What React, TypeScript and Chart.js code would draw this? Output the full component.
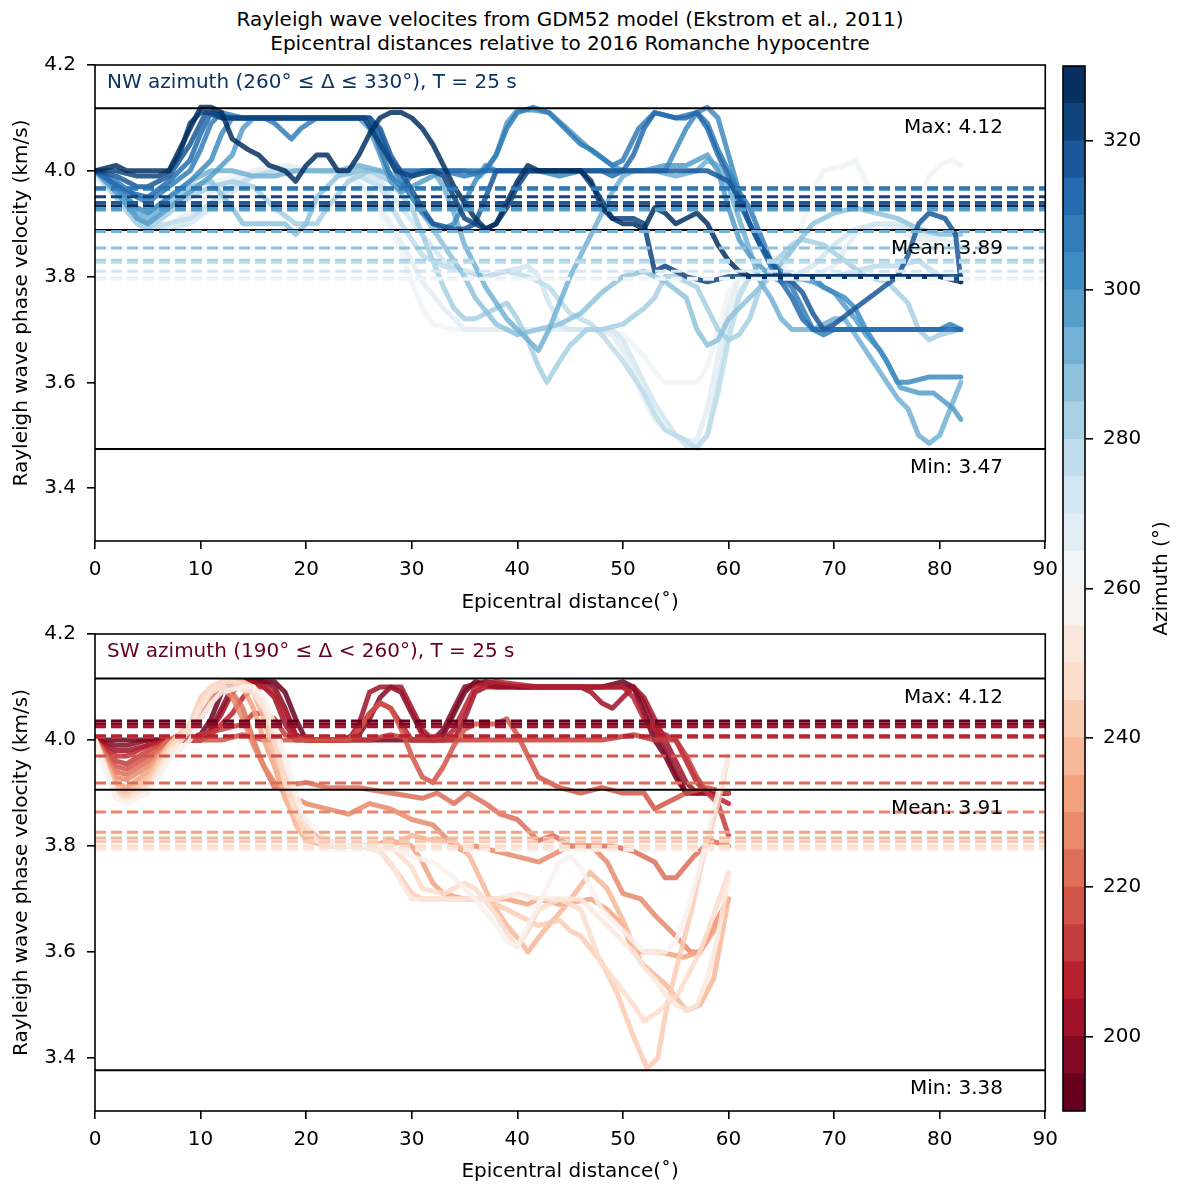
import React, { useEffect, useRef } from 'react';
import { Chart, registerables } from 'chart.js';

Chart.register(...registerables);

const FONT_FAMILY = '"DejaVu Sans", "Liberation Sans", sans-serif';

// ---------- axis ticks ----------
const xTicks = [0, 10, 20, 30, 40, 50, 60, 70, 80, 90];
const yTicks = [3.4, 3.6, 3.8, 4.0, 4.2];
const cbTicks = [200, 220, 240, 260, 280, 300, 320];
const cbBounds = [190, 195, 200, 205, 210, 215, 220, 225, 230, 235, 240, 245, 250, 255, 260, 265, 270, 275, 280, 285, 290, 295, 300, 305, 310, 315, 320, 325, 330];
const statNames = ['Max', 'Mean', 'Min'];
const statLabelX = 86;

// ---------- NW panel (azimuth 260..325) ----------
const nwAzimuths = [260, 265, 270, 275, 280, 285, 290, 295, 300, 305, 310, 315, 320, 325];
const nwStats = [4.118, 3.888, 3.474];
const nwMeans = [3.795, 3.797, 3.81, 3.827, 3.831, 3.854, 3.885, 3.926, 3.928, 3.965, 3.968, 3.94, 3.951, 3.934];

const nw260: [number, number][] = [[0,3.99],[2,3.95],[4,3.9],[5,3.89],[7,3.92],[10,3.97],[13,3.99],[16,4.0],[19,4.0],[22,4.0],[24,4.0],[25,3.98],[27,3.92],[29,3.85],[30,3.79],[31,3.74],[32,3.71],[34,3.7],[36,3.7],[38,3.7],[40,3.7],[42,3.7],[44,3.7],[46,3.7],[48,3.7],[50,3.69],[52,3.65],[53,3.62],[54,3.6],[56,3.6],[57,3.6],[58,3.63],[59,3.7],[60,3.77],[61,3.8],[63,3.8],[65,3.8],[66,3.85],[67,3.9],[68,3.96],[69,4.0],[71,4.01],[72,4.02],[73,3.98],[74,3.95],[76,3.94],[77,3.93],[78,3.94],[79,3.99],[80,4.01],[81,4.02],[82,4.01]];
const nw265: [number, number][] = [[0,3.99],[2,3.95],[4,3.91],[5,3.9],[7,3.9],[9,3.92],[11,3.96],[13,3.98],[15,4.0],[18,4.01],[21,4.0],[24,3.99],[26,3.96],[28,3.9],[30,3.83],[31,3.79],[33,3.74],[34,3.72],[35,3.7],[37,3.7],[40,3.7],[43,3.7],[45,3.7],[47,3.7],[49,3.69],[50,3.66],[51,3.62],[52,3.57],[53,3.53],[54,3.51],[55,3.5],[56,3.49],[57,3.49],[58,3.55],[59,3.65],[60,3.74],[61,3.8],[62,3.81],[64,3.8],[66,3.79],[68,3.8],[70,3.82],[72,3.88],[74,3.9],[76,3.89],[78,3.87],[80,3.87],[82,3.86]];
const nw270: [number, number][] = [[0,4.0],[2,3.96],[4,3.92],[5,3.9],[7,3.89],[9,3.9],[11,3.93],[13,3.96],[15,3.99],[17,4.0],[20,4.0],[23,4.0],[25,4.0],[27,3.98],[29,3.93],[31,3.88],[33,3.83],[35,3.81],[37,3.8],[39,3.81],[41,3.82],[42,3.8],[43,3.75],[44,3.71],[45,3.7],[47,3.7],[49,3.7],[50,3.68],[51,3.64],[52,3.6],[53,3.56],[54,3.53],[55,3.5],[56,3.48],[57,3.48],[58,3.5],[59,3.6],[60,3.7],[61,3.77],[62,3.8],[64,3.8],[66,3.8],[68,3.82],[70,3.86],[72,3.89],[74,3.9],[76,3.9],[78,3.88],[80,3.88],[82,3.88]];
const nw275: [number, number][] = [[0,4.0],[2,3.95],[4,3.9],[5,3.89],[7,3.9],[9,3.91],[11,3.94],[13,3.97],[15,3.99],[17,4.0],[20,4.0],[23,4.0],[25,3.99],[27,3.97],[29,3.9],[31,3.84],[33,3.82],[35,3.81],[37,3.8],[39,3.81],[41,3.8],[43,3.78],[45,3.73],[47,3.71],[48,3.69],[50,3.64],[52,3.58],[53,3.54],[54,3.51],[55,3.5],[56,3.49],[57,3.475],[58,3.5],[59,3.58],[60,3.68],[61,3.76],[62,3.8],[64,3.8],[66,3.79],[68,3.8],[70,3.8],[72,3.81],[74,3.82],[76,3.82],[78,3.83],[80,3.8],[82,3.8]];
const nw280: [number, number][] = [[0,4.0],[2,3.95],[4,3.9],[5,3.89],[7,3.92],[9,3.95],[11,3.97],[13,3.98],[15,3.97],[17,3.93],[19,3.9],[21,3.9],[22,3.93],[24,3.98],[26,4.0],[28,3.98],[30,3.93],[31,3.88],[32,3.83],[33,3.78],[34,3.74],[35,3.72],[36,3.72],[37,3.73],[38,3.74],[39,3.75],[40,3.72],[41,3.68],[42,3.63],[42.8,3.6],[44,3.64],[45,3.67],[46.6,3.7],[48,3.7],[50,3.71],[52,3.74],[53,3.76],[54,3.8],[55,3.8],[57,3.78],[58,3.74],[59,3.7],[60,3.68],[61,3.69],[62,3.72],[63,3.78],[64,3.82],[66,3.86],[67,3.87],[69,3.86],[71,3.83],[73,3.8],[75,3.79],[77,3.75],[78,3.7],[79,3.68],[80,3.69],[82,3.7]];
const nw285: [number, number][] = [[0,4.0],[2,3.96],[4,3.91],[5,3.9],[7,3.94],[9,3.97],[11,3.98],[13,3.93],[14,3.9],[16,3.9],[18,3.9],[19,3.88],[20,3.9],[21,3.95],[23,3.99],[25,4.0],[27,4.0],[29,3.98],[31,3.92],[33,3.86],[35,3.8],[36,3.76],[38,3.71],[40,3.69],[42,3.7],[44,3.71],[46,3.73],[48,3.77],[50,3.8],[52,3.81],[54,3.79],[56,3.76],[57,3.7],[58,3.67],[59,3.68],[60,3.72],[62,3.76],[64,3.8],[66,3.85],[68,3.9],[70,3.92],[72,3.93],[74,3.92],[76,3.91],[78,3.89],[80,3.88],[82,3.88]];
const nw290: [number, number][] = [[0,4.0],[2,3.97],[4,3.92],[5,3.91],[7,3.95],[9,3.98],[11,4.0],[13,4.0],[15,3.99],[17,3.99],[19,4.0],[21,4.0],[23,4.0],[25,4.01],[27,4.0],[29,3.99],[31,4.0],[32,4.0],[33,3.97],[34,3.92],[35,3.86],[36,3.82],[37,3.78],[38,3.75],[39,3.72],[40,3.7],[41,3.68],[42,3.66],[43,3.7],[44,3.75],[45,3.8],[46,3.84],[47,3.88],[48,3.92],[49,3.96],[50,3.99],[51,4.0],[53,4.0],[55,3.99],[57,4.0],[58,4.02],[59,4.01],[60,3.97],[61,3.91],[62,3.85],[63,3.79],[64,3.76],[65,3.72],[66,3.7],[68,3.7],[70,3.72],[71,3.72],[72,3.69],[73,3.66],[74,3.63],[75,3.6],[76,3.57],[77,3.55],[78,3.5],[79,3.485],[80,3.5],[81,3.55],[82,3.6]];
const nw295: [number, number][] = [[0,4.0],[2,3.96],[4,3.91],[5,3.9],[7,3.93],[9,3.96],[11,3.99],[13,4.03],[14,4.08],[15,4.1],[17,4.1],[20,4.1],[23,4.1],[25,4.1],[26,4.08],[27,4.03],[28,3.98],[29,3.96],[30,3.97],[32,3.99],[33,4.0],[35,4.0],[36.5,3.99],[38,4.03],[39,4.09],[40,4.115],[41.5,4.115],[43,4.11],[44.7,4.08],[46.9,4.04],[49,4.01],[50,4.0],[52,4.0],[54,4.01],[56,4.01],[58,4.03],[59,4.0],[60,3.93],[61,3.87],[62,3.84],[63,3.82],[64,3.8],[65,3.79],[66,3.8],[68,3.79],[70,3.77],[72,3.72],[73,3.69],[74.4,3.66],[76.3,3.59],[78,3.58],[79.4,3.58],[81.3,3.55],[82,3.53]];
const nw300: [number, number][] = [[0,4.0],[2,3.97],[4,3.93],[5,3.92],[7,3.95],[9,3.98],[11,4.02],[12,4.07],[13,4.1],[15,4.1],[18,4.1],[22,4.1],[24,4.1],[26,4.1],[27,4.07],[28,4.02],[29,3.98],[30,3.95],[31,3.92],[32,3.9],[33,3.89],[34,3.9],[36,3.98],[37,4.01],[38,4.0],[40,4.0],[42,4.0],[44,3.99],[46,4.0],[48,4.0],[50,4.0],[52,4.0],[54,4.0],[55,4.04],[56,4.08],[57,4.11],[58,4.12],[59,4.1],[60,4.03],[61,3.96],[62,3.9],[63,3.86],[64,3.83],[65,3.81],[66,3.8],[67,3.8],[68,3.8],[69,3.78],[70,3.77],[71,3.76],[72,3.74],[73,3.7],[74,3.67],[75,3.64],[76,3.6],[77,3.6],[79,3.61],[81,3.61],[82,3.61]];
const nw305: [number, number][] = [[0,4.0],[2,3.98],[4,3.95],[5,3.94],[7,3.97],[9,4.0],[10,4.04],[11,4.09],[12,4.11],[14,4.1],[16,4.1],[17,4.09],[18.6,4.06],[19.5,4.08],[21,4.1],[23,4.1],[26,4.1],[27,4.04],[28,3.99],[29,3.97],[30,3.99],[31,4.0],[33,4.0],[35,3.99],[37,4.0],[38,4.03],[39,4.08],[40,4.11],[41.5,4.12],[43,4.11],[44.5,4.08],[46,4.05],[47,4.04],[49,4.01],[50,4.02],[51.5,4.08],[53,4.11],[55,4.1],[57,4.11],[58,4.09],[59,4.04],[60,4.0],[61,3.96],[62,3.93],[63,3.88],[64,3.83],[65,3.8],[66,3.78],[67,3.74],[68,3.7],[69,3.69],[70,3.7],[72,3.7],[76,3.7],[80,3.7],[81,3.71],[82,3.7]];
const nw310: [number, number][] = [[0,4.0],[3,3.96],[5,3.95],[7,3.98],[9,4.02],[10,4.07],[11,4.11],[13,4.1],[16,4.1],[20,4.1],[24,4.1],[26,4.1],[27,4.06],[28,4.02],[29,4.0],[31,4.0],[34,4.0],[38,4.0],[42,4.0],[46,4.0],[48,4.0],[49,3.99],[50,4.0],[51,4.03],[52,4.08],[53,4.11],[55,4.1],[56,4.1],[57,4.11],[58,4.08],[59,4.03],[60,3.99],[61,3.94],[62,3.9],[63,3.86],[64,3.82],[65,3.79],[66,3.76],[67,3.72],[68,3.7],[70,3.7],[74,3.7],[78,3.7],[80,3.7],[82,3.7]];
const nw315: [number, number][] = [[0,4.0],[2,3.99],[4,3.97],[5,3.97],[7,3.99],[9,4.05],[10.5,4.11],[12,4.1],[16,4.1],[20,4.1],[24,4.1],[26,4.1],[27,4.08],[28,4.03],[29.5,3.98],[31,3.93],[32,3.9],[34,3.89],[35,3.89],[36,3.9],[37,3.95],[38,4.0],[40,4.0],[44,4.0],[48,4.0],[52,4.0],[56,4.0],[58,4.0],[60,3.98],[61,3.95],[62,3.9],[63,3.86],[64,3.83],[65,3.8],[66,3.79],[67,3.77],[68,3.73],[69,3.7],[70,3.71],[72,3.74],[74,3.77],[76,3.8],[77,3.84],[78,3.9],[79,3.92],[80.5,3.91],[81.5,3.88],[82,3.79]];
const nw320: [number, number][] = [[0,4.0],[2,4.0],[4,3.99],[6,3.99],[7,4.0],[8,4.03],[9,4.09],[10,4.11],[11,4.11],[12,4.1],[14,4.1],[16,4.1],[18,4.1],[20,4.1],[22,4.1],[24,4.1],[25.5,4.1],[27,4.05],[28.5,4.0],[30,3.99],[32,4.0],[33,3.99],[34,3.95],[35,3.91],[36,3.9],[37,3.89],[38,3.9],[39,3.93],[40,3.97],[41,4.0],[43,4.0],[46,4.0],[47.5,3.96],[49,3.91],[51,3.91],[52,3.9],[53,3.81],[54,3.82],[55,3.81],[56,3.8],[58,3.79],[60,3.8],[64,3.8],[68,3.8],[72,3.8],[76,3.8],[80,3.8],[82,3.8]];
const nw325: [number, number][] = [[0,4.0],[2,4.01],[3,4.0],[5,4.0],[7,4.0],[8.5,4.06],[10,4.12],[11,4.12],[12,4.11],[13,4.06],[14.5,4.04],[15.5,4.03],[16.5,4.01],[18,4.0],[19,3.98],[20,4.01],[21,4.03],[22,4.03],[23,4.0],[24,4.0],[25,4.03],[26,4.07],[27,4.1],[28,4.11],[29,4.11],[30,4.1],[31,4.08],[32,4.05],[33,4.01],[34,3.97],[35,3.94],[36,3.91],[37,3.89],[38,3.9],[39,3.94],[40,3.98],[41,4.01],[42,4.0],[44,4.0],[46,4.0],[47,3.98],[48,3.93],[49,3.91],[50,3.9],[51,3.9],[52,3.89],[53,3.93],[54,3.92],[55,3.9],[56,3.91],[57,3.92],[58,3.9],[59,3.86],[60,3.83],[61,3.81],[62,3.8],[64,3.8],[66,3.8],[68,3.8],[70,3.8],[72,3.8],[74,3.8],[76,3.8],[78,3.8],[80,3.8],[82,3.79]];
const nwLines = [nw260, nw265, nw270, nw275, nw280, nw285, nw290, nw295, nw300, nw305, nw310, nw315, nw320, nw325];

// ---------- SW panel (azimuth 190..255) ----------
const swAzimuths = [190, 195, 200, 205, 210, 215, 220, 225, 230, 235, 240, 245, 250, 255];
const swStats = [4.116, 3.906, 3.377];
const swMeans = [4.036, 4.03, 4.025, 4.008, 4.005, 3.97, 3.919, 3.864, 3.826, 3.815, 3.808, 3.8, 3.795, 3.792];

const sw190: [number, number][] = [[0,4.0],[2,4.0],[4,4.0],[6,4.0],[8,4.0],[10,4.01],[11,4.04],[12,4.09],[13,4.11],[15,4.11],[16,4.11],[17,4.11],[18,4.09],[19,4.04],[20,4.0],[22,4.0],[24,4.0],[26,4.0],[28,4.0],[30,4.0],[32,4.0],[33,4.01],[34,4.05],[35,4.09],[36,4.11],[38,4.1],[40,4.1],[42,4.1],[44,4.1],[46,4.1],[48,4.1],[50,4.11],[51,4.1],[52,4.05],[53,4.0],[54,3.97],[55,3.93],[56,3.9],[57,3.9],[58,3.9],[60,3.9]];
const sw195: [number, number][] = [[0,4.0],[2,3.99],[3,3.99],[5,4.0],[8,4.0],[10,4.0],[11,4.02],[12,4.06],[13,4.1],[14,4.11],[16,4.11],[17,4.1],[18,4.06],[19,4.01],[20,4.0],[23,4.0],[25,4.01],[26,4.04],[27,4.08],[28,4.1],[29,4.09],[30,4.05],[31,4.01],[32,4.0],[33,4.02],[34,4.06],[35,4.1],[37,4.11],[40,4.1],[44,4.1],[47,4.1],[49,4.1],[51,4.1],[52,4.07],[53,4.02],[54,3.98],[55,3.94],[56,3.9],[58,3.9],[60,3.9]];
const sw200: [number, number][] = [[0,4.0],[2,3.98],[3,3.98],[5,3.99],[7,4.0],[10,4.0],[11,4.02],[12,4.05],[13,4.09],[14,4.11],[15,4.11],[16,4.1],[17,4.08],[18,4.03],[19,4.0],[21,4.0],[24,4.0],[25,4.03],[26,4.09],[27,4.1],[29,4.1],[30,4.06],[31,4.02],[32,4.0],[34,4.0],[35,4.04],[36,4.09],[37,4.1],[40,4.1],[43,4.1],[46,4.1],[47,4.09],[48,4.07],[49,4.06],[50,4.08],[51,4.1],[52,4.08],[53,4.04],[54,4.0],[55,3.96],[56,3.92],[57,3.9],[59,3.9],[60,3.9]];
const sw205: [number, number][] = [[0,4.0],[2,3.97],[3,3.97],[5,3.99],[7,4.0],[10,4.0],[11,4.01],[12,4.03],[13,4.05],[14,4.08],[15,4.1],[16,4.1],[17,4.09],[18,4.05],[19,4.01],[20,4.0],[24,4.0],[25,4.02],[26,4.05],[27,4.07],[28,4.06],[29,4.03],[30,4.0],[33,4.0],[34,4.02],[35,4.06],[36,4.1],[38,4.11],[42,4.1],[46,4.1],[49,4.1],[50,4.1],[51,4.08],[52,4.04],[53,4.02],[54,4.01],[55,4.0],[56,3.96],[57,3.92],[58,3.9],[60,3.88]];
const sw210: [number, number][] = [[0,4.0],[2,3.96],[3,3.955],[5,3.98],[7,4.0],[10,4.01],[12,4.02],[14,4.03],[15,4.05],[16,4.05],[17,4.04],[18,4.01],[20,4.0],[22,4.0],[24,4.0],[26,4.0],[28,4.01],[30,4.0],[33,4.0],[36,4.0],[39,4.0],[42,4.0],[45,4.0],[48,4.0],[51,4.01],[53,4.0],[55,4.0],[56,3.97],[57,3.93],[58,3.9],[59,3.88],[60,3.82]];
const sw215: [number, number][] = [[0,4.0],[2,3.95],[3,3.945],[5,3.97],[7,4.0],[10,4.0],[12,4.0],[14,4.01],[16,4.0],[18,4.0],[20,4.0],[22,4.0],[24,4.0],[25,4.02],[26,4.05],[27,4.07],[28,4.06],[29,4.02],[30,3.97],[31,3.93],[32,3.92],[33,3.95],[34,3.99],[35,4.02],[36,4.03],[38,4.03],[39,4.04],[40,4.01],[41,3.97],[42,3.93],[44,3.91],[46,3.9],[48,3.91],[50,3.9],[52,3.9],[53,3.87],[54,3.88],[56,3.9],[58,3.91],[60,3.9]];
const sw220: [number, number][] = [[0,4.0],[2,3.94],[3,3.935],[5,3.96],[7,4.0],[9,4.02],[10,4.05],[11,4.08],[12,4.1],[13,4.09],[14,4.06],[15,4.0],[16,3.95],[17,3.91],[20,3.92],[22,3.91],[25,3.91],[28,3.9],[31,3.89],[32.4,3.9],[34,3.88],[35.3,3.9],[37,3.88],[38.4,3.86],[40,3.85],[42,3.81],[43.4,3.82],[45,3.8],[47,3.8],[49,3.8],[51,3.79],[53,3.77],[54,3.74],[55,3.74],[56.7,3.78],[58.3,3.81],[60,3.8]];
const sw225: [number, number][] = [[0,4.0],[2,3.93],[3,3.925],[5,3.95],[7,3.99],[9,4.02],[10,4.04],[11,4.07],[12,4.1],[13,4.08],[14,4.04],[15,3.99],[16,3.95],[17,3.92],[18,3.9],[20,3.88],[22,3.87],[24,3.86],[26,3.88],[28,3.87],[30,3.85],[32,3.84],[34,3.8],[35,3.79],[36,3.8],[38,3.79],[40,3.78],[42,3.77],[44,3.79],[45,3.8],[47,3.8],[48.5,3.77],[50,3.71],[51.7,3.7],[53,3.67],[55,3.63],[56.4,3.6],[57.3,3.6],[58.6,3.65],[60,3.7]];
const sw230: [number, number][] = [[0,4.0],[2,3.92],[3,3.91],[5,3.94],[7,3.99],[9,4.02],[10,4.06],[11,4.09],[12,4.11],[13,4.11],[14,4.1],[15,4.06],[16,4.0],[17,3.95],[18,3.89],[19,3.85],[20,3.83],[22,3.81],[24,3.8],[26,3.8],[28,3.81],[30,3.8],[31,3.77],[32,3.73],[33,3.71],[35,3.7],[37,3.7],[39,3.7],[41,3.69],[42,3.7],[44,3.69],[47,3.7],[48.5,3.68],[50,3.65],[51,3.6],[53.5,3.6],[55.7,3.59],[57.3,3.6],[58.6,3.64],[60,3.7]];
const sw235: [number, number][] = [[0,4.0],[2,3.91],[3,3.9],[5,3.93],[7,3.99],[9,4.03],[10,4.07],[11,4.1],[12,4.11],[13,4.11],[14,4.11],[15,4.09],[16,4.04],[17,3.97],[18,3.9],[19,3.84],[20,3.81],[22,3.8],[24,3.8],[26,3.8],[28,3.8],[30,3.82],[32,3.81],[34,3.81],[35.5,3.78],[37.4,3.7],[39,3.65],[40.3,3.62],[41,3.6],[42.5,3.64],[44.7,3.69],[46.9,3.75],[48.5,3.72],[50,3.66],[51.7,3.58],[54,3.54],[56,3.49],[57.3,3.5],[58.6,3.55],[60,3.7]];
const sw240: [number, number][] = [[0,4.0],[2,3.9],[3,3.895],[5,3.92],[7,3.99],[9,4.03],[10,4.08],[11,4.1],[12,4.11],[14,4.11],[15,4.1],[16,4.06],[17,3.99],[18,3.93],[19,3.88],[20,3.84],[21,3.81],[23,3.8],[25,3.8],[27,3.79],[29,3.74],[30,3.71],[31,3.7],[33,3.7],[35,3.7],[37,3.7],[39,3.68],[41,3.66],[42,3.65],[44,3.66],[45,3.64],[46,3.63],[48,3.58],[49.5,3.52],[51,3.44],[52.3,3.38],[53.3,3.4],[54.2,3.5],[55.2,3.58],[56.4,3.67],[57.6,3.78],[59,3.88],[60,3.97]];
const sw245: [number, number][] = [[0,4.0],[2,3.895],[3,3.89],[5,3.91],[7,3.98],[9,4.03],[10,4.07],[11,4.1],[12,4.11],[13,4.11],[15,4.1],[16,4.07],[17,4.0],[18,3.92],[19,3.86],[20,3.82],[22,3.8],[24,3.8],[26,3.8],[28,3.8],[30,3.76],[31,3.72],[33,3.71],[35,3.73],[36,3.72],[38,3.67],[39.5,3.62],[40,3.61],[41,3.64],[42,3.68],[44,3.7],[46,3.68],[47.9,3.58],[49.5,3.54],[51,3.5],[52,3.47],[53.5,3.49],[55.2,3.52],[57.3,3.6],[58.6,3.67],[60,3.75]];
const sw250: [number, number][] = [[0,4.0],[2,3.89],[3,3.885],[5,3.9],[7,3.97],[9,4.02],[10,4.06],[11,4.09],[12,4.1],[13,4.1],[15,4.09],[16,4.06],[17,4.02],[18,3.96],[19,3.89],[20,3.84],[21,3.81],[23,3.8],[25,3.8],[27,3.79],[28,3.77],[29,3.73],[30,3.7],[32,3.7],[35,3.7],[38,3.7],[40,3.71],[42,3.7],[44,3.7],[46,3.7],[47,3.68],[48,3.66],[49,3.64],[50,3.62],[51,3.6],[52,3.57],[53,3.55],[54,3.52],[55,3.5],[56,3.49],[57,3.5],[58,3.55],[59,3.63],[60,3.74]];
const sw255: [number, number][] = [[0,4.0],[2,3.89],[3,3.88],[5,3.9],[7,3.96],[9,4.0],[10,4.04],[11,4.07],[12,4.09],[14,4.1],[15,4.1],[16,4.08],[17,4.03],[18,3.97],[19,3.9],[20,3.85],[22,3.81],[24,3.8],[26,3.8],[28,3.8],[30,3.78],[32,3.77],[34,3.74],[36,3.7],[38,3.65],[39,3.62],[40,3.61],[41,3.65],[42,3.69],[43,3.73],[44,3.77],[45,3.78],[46,3.76],[47,3.72],[48,3.68],[50,3.64],[52,3.6],[53,3.6],[54,3.6],[55,3.62],[56,3.67],[57,3.74],[58,3.82],[59,3.9],[60,3.97]];
const swLines = [sw190, sw195, sw200, sw205, sw210, sw215, sw220, sw225, sw230, sw235, sw240, sw245, sw250, sw255];

// ---------- colour map (RdBu) ----------
const RDBU = ['#67001f', '#b2182b', '#d6604d', '#f4a582', '#fddbc7', '#f7f7f7', '#d1e5f0', '#92c5de', '#4393c3', '#2166ac', '#053061'];
function hexRgb(h: string) {
  return [parseInt(h.slice(1, 3), 16), parseInt(h.slice(3, 5), 16), parseInt(h.slice(5, 7), 16)];
}
function rdbu(t: number, alpha = 1) {
  const s = Math.max(0, Math.min(1, t)) * 10;
  const i = Math.min(9, Math.floor(s));
  const f = s - i;
  const a = hexRgb(RDBU[i]);
  const b = hexRgb(RDBU[i + 1]);
  const c = a.map((v, k) => Math.round(v + (b[k] - v) * f));
  return `rgba(${c[0]},${c[1]},${c[2]},${alpha})`;
}
function azColor(az: number, alpha = 1) {
  return rdbu((az - 190) / 5 / 27, alpha);
}

const tickFont = { family: FONT_FAMILY, size: 20 };
const gridCfg = { display: true, drawOnChartArea: false, drawTicks: true, tickLength: 8, tickWidth: 1.6, tickColor: '#000', color: '#000', lineWidth: 1.6 };

function panelPlugin(title: string, titleColor: string, stats: number[]) {
  return {
    id: 'panelDecor',
    afterDraw(chart: any) {
      const { ctx, chartArea: a, scales } = chart;
      ctx.save();
      ctx.strokeStyle = '#000';
      ctx.lineWidth = 1.6;
      ctx.strokeRect(a.left, a.top, a.right - a.left, a.bottom - a.top);
      ctx.font = `20px ${FONT_FAMILY}`;
      ctx.textBaseline = 'middle';
      ctx.textAlign = 'left';
      ctx.fillStyle = titleColor;
      ctx.fillText(title, a.left + 12, a.top + 18);
      ctx.fillStyle = '#000';
      ctx.textAlign = 'right';
      stats.forEach((v, k) => {
        ctx.fillText(`${statNames[k]}: ${v.toFixed(2)}`, scales.x.getPixelForValue(statLabelX), scales.y.getPixelForValue(v) + 19);
      });
      ctx.restore();
    },
  };
}

type PanelProps = {
  top: number;
  height: number;
  padTop: number;
  xAxisHeight: number;
  xTitlePad: number;
  lines: [number, number][][];
  azimuths: number[];
  means: number[];
  stats: number[];
  title: string;
  titleColor: string;
};

function Panel(p: PanelProps) {
  const ref = useRef<HTMLCanvasElement | null>(null);
  useEffect(() => {
    if (!ref.current) return;
    const datasets: any[] = [];
    p.lines.forEach((ln, i) => {
      datasets.push({
        data: ln.map(([x, y]) => ({ x, y })),
        borderColor: azColor(p.azimuths[i], 0.85),
        borderWidth: 5,
        borderJoinStyle: 'round',
        borderCapStyle: 'round',
        pointRadius: 0,
        order: 100 - i,
      });
    });
    p.stats.forEach((v) => {
      datasets.push({
        data: [{ x: 0, y: v }, { x: 90, y: v }],
        borderColor: '#000',
        borderWidth: 2,
        pointRadius: 0,
        order: 1,
      });
    });
    p.means.forEach((v, i) => {
      datasets.push({
        data: [{ x: 0, y: v }, { x: 90, y: v }],
        borderColor: azColor(p.azimuths[i]),
        borderWidth: 3,
        borderDash: [11, 5],
        pointRadius: 0,
        order: 0,
      });
    });
    const chart = new Chart(ref.current, {
      type: 'line',
      data: { datasets },
      options: {
        animation: false,
        responsive: false,
        devicePixelRatio: 1,
        layout: { padding: { top: p.padTop, right: 20, bottom: 0, left: 0 } },
        plugins: { legend: { display: false }, tooltip: { enabled: false } },
        elements: { line: { tension: 0 }, point: { radius: 0 } },
        scales: {
          x: {
            type: 'linear',
            min: 0,
            max: 90,
            afterBuildTicks: (s: any) => { s.ticks = xTicks.map((v) => ({ value: v })); },
            afterFit: (s: any) => { s.height = p.xAxisHeight; },
            grid: gridCfg,
            border: { display: false },
            ticks: { color: '#000', font: tickFont, padding: 9, maxRotation: 0, autoSkip: false, callback: (v: any) => String(v) },
            title: { display: true, text: 'Epicentral distance(˚)', color: '#000', font: tickFont, padding: { top: 0, bottom: p.xTitlePad } },
          },
          y: {
            type: 'linear',
            min: 3.3,
            max: 4.2,
            afterBuildTicks: (s: any) => { s.ticks = yTicks.map((v) => ({ value: v })); },
            afterFit: (s: any) => { s.width = 95; },
            grid: gridCfg,
            border: { display: false },
            ticks: { color: '#000', font: tickFont, padding: 11, autoSkip: false, callback: (v: any) => Number(v).toFixed(1) },
            title: { display: true, text: 'Rayleigh wave phase velocity (km/s)', color: '#000', font: tickFont, padding: { top: 10, bottom: 0 } },
          },
        },
      } as any,
      plugins: [panelPlugin(p.title, p.titleColor, p.stats)],
    });
    return () => chart.destroy();
  }, []);
  return (
    <canvas
      ref={ref}
      width={1067}
      height={p.height}
      style={{ position: 'absolute', left: 0, top: p.top, width: 1067, height: p.height }}
    />
  );
}

function ColorBar() {
  const ref = useRef<HTMLCanvasElement | null>(null);
  useEffect(() => {
    if (!ref.current) return;
    const datasets = cbBounds.slice(0, -1).map((lo, i) => ({
      data: [[lo, cbBounds[i + 1]]],
      backgroundColor: azColor(lo),
      borderWidth: 0,
      grouped: false,
      barPercentage: 1,
      categoryPercentage: 1,
    }));
    const chart = new Chart(ref.current, {
      type: 'bar',
      data: { labels: [''], datasets },
      options: {
        animation: false,
        responsive: false,
        devicePixelRatio: 1,
        layout: { padding: { top: 26, right: 0, bottom: 29, left: 8 } },
        plugins: { legend: { display: false }, tooltip: { enabled: false } },
        scales: {
          x: { display: false },
          y: {
            type: 'linear',
            position: 'right',
            min: 190,
            max: 330,
            afterBuildTicks: (s: any) => { s.ticks = cbTicks.map((v) => ({ value: v })); },
            afterFit: (s: any) => { s.width = 95; },
            grid: gridCfg,
            border: { display: false },
            ticks: { color: '#000', font: tickFont, padding: 10, autoSkip: false },
          },
        },
      } as any,
      plugins: [
        {
          id: 'cbDecor',
          afterDraw(c: any) {
            const { ctx, chartArea: a } = c;
            ctx.save();
            ctx.strokeStyle = '#000';
            ctx.lineWidth = 1.6;
            ctx.strokeRect(a.left, a.top, a.right - a.left, a.bottom - a.top);
            ctx.translate(107, (a.top + a.bottom) / 2 - 10);
            ctx.rotate(-Math.PI / 2);
            ctx.font = `20px ${FONT_FAMILY}`;
            ctx.fillStyle = '#000';
            ctx.textAlign = 'center';
            ctx.textBaseline = 'middle';
            ctx.fillText('Azimuth (°)', 0, 0);
            ctx.restore();
          },
        },
      ],
    });
    return () => chart.destroy();
  }, []);
  return (
    <canvas
      ref={ref}
      width={125}
      height={1100}
      style={{ position: 'absolute', left: 1055, top: 40, width: 125, height: 1100 }}
    />
  );
}

export default function App() {
  return (
    <div style={{ position: 'absolute', left: 0, top: 0, width: 1180, height: 1187, overflow: 'hidden', background: '#fff' }}>
      <div
        style={{
          position: 'absolute', left: 95, top: 7, width: 950, textAlign: 'center',
          fontFamily: FONT_FAMILY, fontSize: 20, lineHeight: '24px', color: '#000',
        }}
      >
        <div>Rayleigh wave velocites from GDM52 model (Ekstrom et al., 2011)</div>
        <div>Epicentral distances relative to 2016 Romanche hypocentre</div>
      </div>
      <Panel
        top={40}
        height={580}
        padTop={25}
        xAxisHeight={79}
        xTitlePad={5}
        lines={nwLines}
        azimuths={nwAzimuths}
        means={nwMeans}
        stats={nwStats}
        title="NW azimuth (260° ≤ Δ ≤ 330°), T = 25 s"
        titleColor="#0b3463"
      />
      <Panel
        top={610}
        height={575}
        padTop={24}
        xAxisHeight={74}
        xTitlePad={1}
        lines={swLines}
        azimuths={swAzimuths}
        means={swMeans}
        stats={swStats}
        title="SW azimuth (190° ≤ Δ < 260°), T = 25 s"
        titleColor="#67001f"
      />
      <ColorBar />
    </div>
  );
}
